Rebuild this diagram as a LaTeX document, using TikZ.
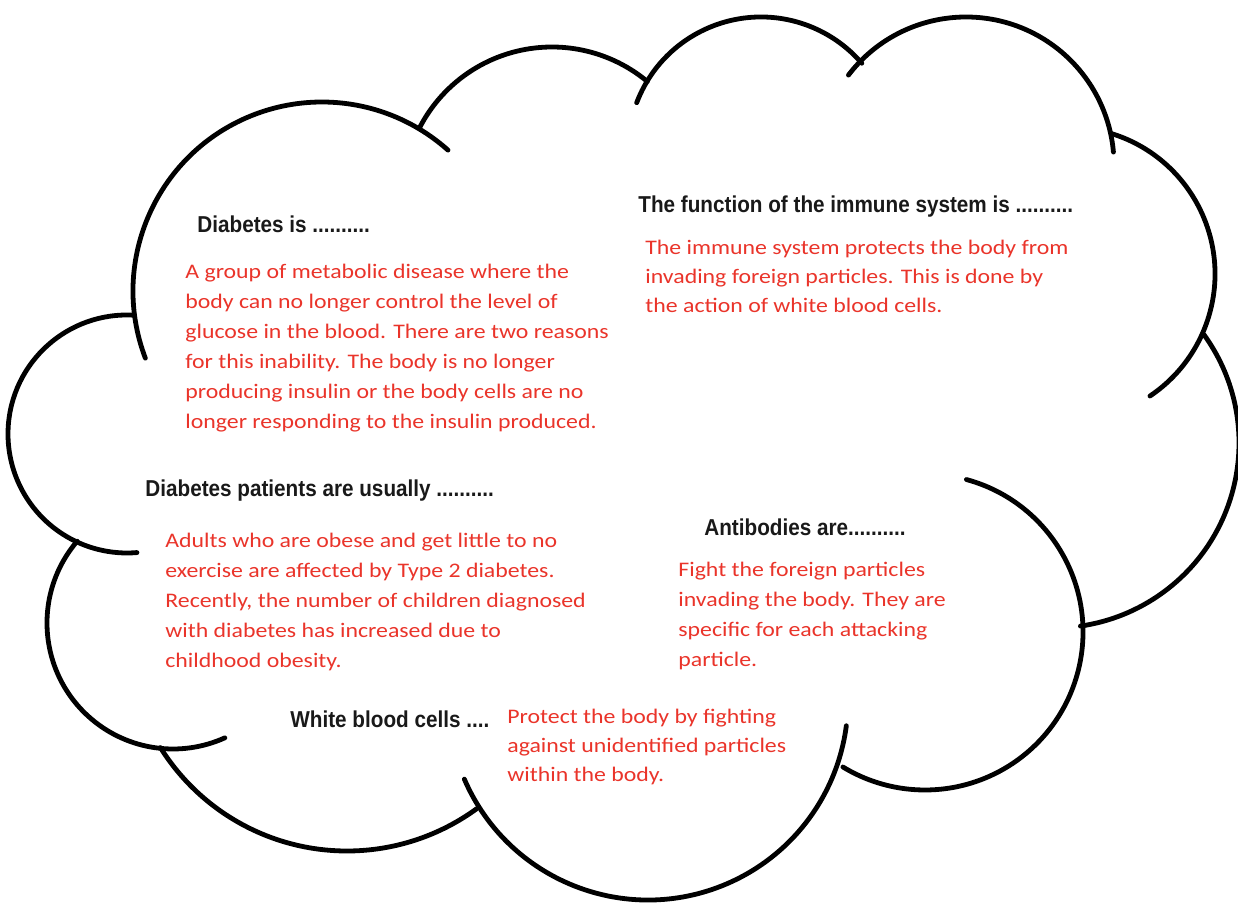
\documentclass[tikz,border=0pt]{standalone}
\usepackage{fontspec}
\newfontfamily\headfont[FakeStretch=0.9]{Liberation Sans}
\newfontfamily\bodyfont[FakeStretch=1.15]{Carlito}
\definecolor{answerred}{RGB}{234,52,42}
\definecolor{promptblack}{RGB}{25,25,25}
\begin{document}
\begin{tikzpicture}[x=0.5pt,y=0.5pt,
  lobe/.style={line width=2.4pt,line cap=round},
  heading/.style={font=\headfont\bfseries\fontsize{11.5}{13}\selectfont,text=promptblack,inner sep=0pt,anchor=base west},
  answer/.style={font=\bodyfont\fontsize{10.35}{12}\selectfont,text=answerred,inner sep=0pt,anchor=base west}]
\useasboundingbox (0,0) rectangle (1238,-903);
\fill[white] (0,0) rectangle (1238,-903);

% cloud outline: one circular arc per lobe (centre x / centre y / radius / start / end)
\foreach \cx/\cy/\r/\a/\b in {
    322/291/189/200.8/48.2,
    552/196/149/152.7/50.2,
    761/150/133/159.2/40.7,
    966/165/148/142.6/5,
    1068/274/147/73/-56.1,
    1054/443/185/35.9/-81.8,
    925/632/158/74.8/-121.3,
    648/700/200/203.3/352.6,
    347/631/220/212/306.1,
    173/623/126/139.5/294.3,
    127/434/119/87/274.8}
  \draw[lobe] (\cx,-\cy) ++(\a:\r) arc[start angle=\a, end angle=\b, radius=\r];

% prompts
\node[heading] (q-diabetes) at (197,-233) {Diabetes is ..........};
\node[heading] (q-immune) at (638,-213) {The function of the immune system is ..........};
\node[heading] (q-patients) at (145,-497) {Diabetes patients are usually ..........};
\node[heading] (q-antibodies) at (704,-536) {Antibodies are..........};
\node[heading] (q-wbc) at (290,-727) {White blood cells ....};

% answers
\foreach \t [count=\i from 0] in {
    A group of metabolic disease where the,
    body can no longer control the level of,
    glucose in the blood. There are two reasons,
    for this inability. The body is no longer,
    producing insulin or the body cells are no,
    longer responding to the insulin produced.}
  \node[answer] (a-diabetes-\i) at (185,{-279-30*\i}) {\t};

\foreach \t [count=\i from 0] in {
    The immune system protects the body from,
    invading foreign particles. This is done by,
    the action of white blood cells.}
  \node[answer] (a-immune-\i) at (645,{-255-29*\i}) {\t};

\foreach \t [count=\i from 0] in {
    Adults who are obese and get little to no,
    exercise are affected by Type 2 diabetes.,
    {Recently, the number of children diagnosed},
    with diabetes has increased due to,
    childhood obesity.}
  \node[answer] (a-patients-\i) at (165,{-548-30*\i}) {\t};

\foreach \t [count=\i from 0] in {
    Fight the foreign particles,
    invading the body. They are,
    specific for each attacking,
    particle.}
  \node[answer] (a-antibodies-\i) at (678,{-577-30*\i}) {\t};

\foreach \t [count=\i from 0] in {
    Protect the body by fighting,
    against unidentified particles,
    within the body.}
  \node[answer] (a-wbc-\i) at (507,{-723-29*\i}) {\t};
\end{tikzpicture}
\end{document}
